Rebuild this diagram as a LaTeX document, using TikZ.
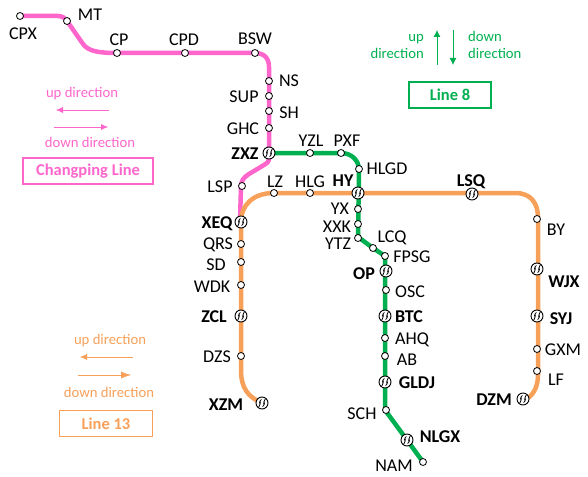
\documentclass[tikz,border=0pt]{standalone}
\usepackage{fontspec}
\setmainfont{Carlito}
\usetikzlibrary{arrows.meta}
\definecolor{linepink}{RGB}{255,102,204}
\definecolor{linegreen}{RGB}{0,176,80}
\definecolor{lineorange}{RGB}{247,160,90}
\tikzset{
    stop/.style={circle,draw=black,fill=white,line width=0.8pt,inner sep=0pt,minimum size=7pt},
    hub/.style={circle,draw=black,fill=white,line width=0.9pt,inner sep=0pt,minimum size=12pt,
        path picture={\draw[line width=0.8pt,black]
            ([shift={(-0.6pt,3.6pt)}]path picture bounding box.center) .. controls +(-2.6pt,-1.6pt) and +(-0.6pt,-2pt) .. +(-1.2pt,-3.6pt) .. controls +(0.4pt,-1.6pt) and +(-1.8pt,-2.2pt) .. +(-2.2pt,-7pt)
            ([shift={(0.6pt,-3.6pt)}]path picture bounding box.center) .. controls +(2.6pt,1.6pt) and +(0.6pt,2pt) .. +(1.2pt,3.6pt) .. controls +(-0.4pt,1.6pt) and +(1.8pt,2.2pt) .. +(2.2pt,7pt);}},
    lbl/.style={font=\fontsize{18}{20}\selectfont,inner sep=0pt,text height=11.6pt,text depth=0pt,yshift=-0.8pt},
    blbl/.style={font=\fontsize{18}{20}\selectfont\bfseries,inner sep=0pt,text height=11.6pt,text depth=0pt,yshift=-0.8pt},
    leg/.style={font=\fontsize{14.7}{16}\selectfont,inner sep=0pt,text height=10pt,text depth=3pt,yshift=-1.5pt},
    legbox/.style={draw,line width=1.2pt,inner sep=0pt,font=\fontsize{16.5}{18}\selectfont\bfseries},
    track/.style={line width=4.5pt,line cap=round}
}
\begin{document}
\begin{tikzpicture}[x=1pt,y=-1pt]
    \useasboundingbox (0,0) rectangle (588,476);

    % Changping Line
    \draw[track,linepink] (20,16) -- (58,16) .. controls (62,16) and (65,18) .. (67,21)
        -- (83,44) .. controls (88,51) and (98,53) .. (117,53) -- (255,53)
        .. controls (264,53) and (269,58) .. (269,67) -- (269,158) .. controls (269,162) and (267,163) .. (264,165)
        -- (249,174) .. controls (244,177) and (241,181) .. (241,186) -- (240,222);

    % Line 13
    \draw[track,lineorange] (262,403) .. controls (248,397) and (241,388) .. (241,370) -- (241,222)
        .. controls (241,205) and (253,193) .. (274,193) -- (515,193)
        .. controls (531,193) and (538,203) .. (538,218) -- (538,375)
        .. controls (538,388) and (532,398) .. (523,400);

    % Line 8
    \draw[track,linegreen] (269,153) -- (341,153) .. controls (351,153) and (359,160) .. (359,170)
        -- (358,237) -- (373,248) -- (385,256) -- (385,410) -- (407,440) -- (423,462);

    % Changping Line stops
    \node[stop] (CPX) at (20,16) {};
    \node[stop] (MT) at (67,21) {};
    \node[stop] (CP) at (117,53) {};
    \node[stop] (CPD) at (185,53) {};
    \node[stop] (BSW) at (255,53) {};
    \node[stop] (NS) at (269,81) {};
    \node[stop] (SUP) at (269,96) {};
    \node[stop] (SH) at (269,111) {};
    \node[stop] (GHC) at (269,128) {};
    \node[hub] (ZXZ) at (269,153) {};
    \node[stop] (LSP) at (242,186) {};
    \node[hub] (XEQ) at (241,222) {};

    % Line 8 stops
    \node[stop] (YZL) at (310,153) {};
    \node[stop] (PXF) at (341,153) {};
    \node[stop] (HLGD) at (359,169) {};
    \node[hub] (HY) at (358,193) {};
    \node[stop] (YX) at (358,209) {};
    \node[stop] (XXK) at (358,224) {};
    \node[stop] (YTZ) at (358,238) {};
    \node[stop] (LCQ) at (373,248) {};
    \node[stop] (FPSG) at (385,256) {};
    \node[hub] (OP) at (386,271) {};
    \node[stop] (OSC) at (386,290) {};
    \node[hub] (BTC) at (385,316) {};
    \node[stop] (AHQ) at (385,338) {};
    \node[stop] (AB) at (385,356) {};
    \node[hub] (GLDJ) at (385,382) {};
    \node[stop] (SCH) at (386,410) {};
    \node[hub] (NLGX) at (407,440) {};
    \node[stop] (NAM) at (423,462) {};

    % Line 13 stops
    \node[stop] (LZ) at (274,193) {};
    \node[stop] (HLG) at (310,193) {};
    \node[hub] (LSQ) at (472,194) {};
    \node[stop] (BY) at (537,219) {};
    \node[hub] (WJX) at (537,269) {};
    \node[hub] (SYJ) at (537,316) {};
    \node[stop] (GXM) at (537,349) {};
    \node[stop] (LF) at (537,371) {};
    \node[hub] (DZM) at (523,399) {};
    \node[stop] (QRS) at (241,244) {};
    \node[stop] (SD) at (241,262) {};
    \node[stop] (WDK) at (241,285) {};
    \node[hub] (ZCL) at (241,316) {};
    \node[stop] (DZS) at (241,356) {};
    \node[hub] (XZM) at (262,403) {};

    % labels
    \node[lbl] at (23,33) {CPX};
    \node[lbl] at (90,14) {MT};
    \node[lbl] at (119,39) {CP};
    \node[lbl] at (184,39) {CPD};
    \node[lbl] at (255,38) {BSW};
    \node[lbl] at (289,80) {NS};
    \node[lbl] at (244,96) {SUP};
    \node[lbl] at (289,112) {SH};
    \node[lbl] at (243,128) {GHC};
    \node[blbl] at (245,153) {ZXZ};
    \node[lbl] at (220,186) {LSP};
    \node[blbl] at (217,222) {XEQ};
    \node[lbl] at (311,140) {YZL};
    \node[lbl] at (347,140) {PXF};
    \node[lbl] at (387,168) {HLGD};
    \node[lbl] at (275,181) {LZ};
    \node[lbl] at (310,181) {HLG};
    \node[blbl] at (343,180) {HY};
    \node[blbl] at (471,180) {LSQ};
    \node[lbl] at (340,208) {YX};
    \node[lbl] at (337,226) {XXK};
    \node[lbl] at (338,243) {YTZ};
    \node[lbl] at (392,236) {LCQ};
    \node[lbl] at (412,256) {FPSG};
    \node[blbl] at (364,273) {OP};
    \node[lbl] at (410,291) {OSC};
    \node[blbl] at (409,316) {BTC};
    \node[lbl] at (412,338) {AHQ};
    \node[lbl] at (407,359) {AB};
    \node[blbl] at (417,382) {GLDJ};
    \node[lbl] at (362,413) {SCH};
    \node[blbl] at (440,436) {NLGX};
    \node[lbl] at (394,465) {NAM};
    \node[lbl] at (556,229) {BY};
    \node[blbl] at (564,281) {WJX};
    \node[blbl] at (561,318) {SYJ};
    \node[lbl] at (563,349) {GXM};
    \node[lbl] at (556,379) {LF};
    \node[blbl] at (494,399) {DZM};
    \node[lbl] at (218,243) {QRS};
    \node[lbl] at (216,264) {SD};
    \node[lbl] at (212,286) {WDK};
    \node[blbl] at (214,316) {ZCL};
    \node[lbl] at (217,356) {DZS};
    \node[blbl] at (226,404) {XZM};

    % Changping legend
    \node[leg,text=linepink] (cpup) at (82,93) {up direction};
    \coordinate (cpa) at (109,110);
    \coordinate (cpb) at (56,110);
    \draw[-{Latex[length=7pt,width=6pt]},linepink] (cpa) -- (cpb);
    \coordinate (cpc) at (54,127);
    \coordinate (cpd) at (108,127);
    \draw[-{Latex[length=7pt,width=6pt]},linepink] (cpc) -- (cpd);
    \node[leg,text=linepink] (cpdown) at (90,142) {down direction};
    \node[legbox,draw=linepink,text=linepink,minimum width=130pt,minimum height=26pt] (cpbox) at (88,171) {Changping Line};

    % Line 8 legend
    \node[leg,text=linegreen,anchor=east] (gup) at (424,37) {up};
    \node[leg,text=linegreen,anchor=east] (gupb) at (424,54) {direction};
    \coordinate (ga) at (437,65);
    \coordinate (gb) at (437,30);
    \draw[-{Latex[length=7pt,width=7pt]},line width=0.8pt,linegreen] (ga) -- (gb);
    \coordinate (gc) at (453,30);
    \coordinate (gd) at (453,65);
    \draw[-{Latex[length=7pt,width=7pt]},line width=0.8pt,linegreen] (gc) -- (gd);
    \node[leg,text=linegreen,anchor=west] (gdown) at (468,37) {down};
    \node[leg,text=linegreen,anchor=west] (gdownb) at (468,54) {direction};
    \node[legbox,draw=linegreen,text=linegreen,minimum width=82pt,minimum height=26pt] (gbox) at (450,95) {Line 8};

    % Line 13 legend
    \node[leg,text=lineorange] (oup) at (110,339) {up direction};
    \coordinate (oa) at (133,357);
    \coordinate (ob) at (80,357);
    \draw[-{Latex[length=7pt,width=6pt]},lineorange] (oa) -- (ob);
    \coordinate (oc) at (78,375);
    \coordinate (od) at (131,375);
    \draw[-{Latex[length=10pt,width=7pt]},lineorange] (oc) -- (od);
    \node[leg,text=lineorange] (odown) at (109,392) {down direction};
    \node[legbox,draw=lineorange,text=lineorange,minimum width=93pt,minimum height=26pt] (obox) at (106,423.5) {Line 13};
\end{tikzpicture}
\end{document}
